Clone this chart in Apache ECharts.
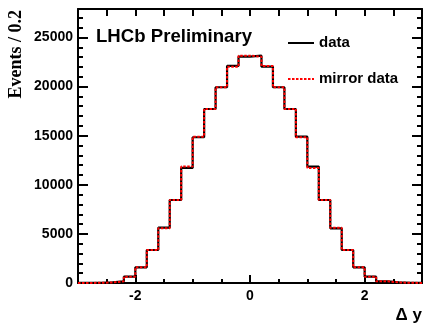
<!DOCTYPE html>
<html>
<head>
<meta charset="utf-8">
<script src="https://cdn.jsdelivr.net/npm/echarts@6/dist/echarts.min.js"></script>
<style>
  html, body { margin: 0; padding: 0; background: #fff; }
  #chart { width: 425px; height: 324px; }
</style>
</head>
<body>
<div id="chart"></div>
<script>
// Histogram binning of Δy
const binStart = -3.0;
const binWidth = 0.2;

// Events per bin, from Δy = -3.0 to 3.0
const dataCounts = [
  5, 20, 60, 170, 640, 1600, 3360, 5630, 8450, 11720,
  14840, 17720, 19930, 22100, 23050, 23150, 22030, 19930, 17720, 14900,
  11850, 8450, 5570, 3360, 1600, 640, 170, 60, 20, 5
];

// Same distribution reflected about Δy = 0
const mirrorCounts = [
  5, 20, 60, 170, 640, 1600, 3360, 5570, 8450, 11850,
  14900, 17720, 19930, 22030, 23150, 23050, 22100, 19930, 17720, 14840,
  11720, 8450, 5630, 3360, 1600, 640, 170, 60, 20, 5
];

const xMajorTicks = [-2, 0, 2];
const yTickStep = 5000;
const yMinorStep = 1000;
const yMax = 27900;

// Step outline points: each bin's low edge, plus the final high edge
function stepPoints(counts) {
  const pts = counts.map((v, i) => [binStart + i * binWidth, v]);
  pts.push([binStart + counts.length * binWidth, counts[counts.length - 1]]);
  return pts;
}

const xMin = binStart;
const xMax = binStart + dataCounts.length * binWidth;

const labelFont = { fontFamily: 'Liberation Sans', fontWeight: 'bold', color: '#000' };
const tickStyle = { color: '#000', width: 2 };

// frame-side axis helper: ticks only, optional line
function yAxisDef(position, interval, tickLen, withLine) {
  return {
    type: 'value', min: 0, max: yMax, interval: interval, position: position,
    axisLine: { show: withLine, onZero: false, lineStyle: tickStyle },
    axisTick: { show: true, inside: true, length: tickLen, lineStyle: tickStyle },
    axisLabel: { show: false },
    splitLine: { show: false }
  };
}

const chart = echarts.init(document.getElementById('chart'));
chart.setOption({
  animation: false,
  backgroundColor: '#fff',
  title: {
    text: 'LHCb Preliminary',
    left: 96,
    top: 27.5,
    padding: 0,
    textStyle: Object.assign({ fontSize: 18.6 }, labelFont)
  },
  legend: {
    orient: 'vertical',
    left: 287,
    top: 35,
    padding: 0,
    itemWidth: 26,
    itemHeight: 14,
    itemGap: 20,
    itemStyle: { opacity: 0 },
    textStyle: Object.assign({ fontSize: 15, lineHeight: 16 }, labelFont),
    data: ['data', 'mirror data']
  },
  grid: { left: 78, right: 1.5, top: 9, bottom: 41, containLabel: false },
  xAxis: [
    {
      type: 'value', min: xMin, max: xMax, position: 'bottom',
      name: 'Δ y', nameLocation: 'end', nameGap: 0,
      nameTextStyle: Object.assign({ fontSize: 17, align: 'right', verticalAlign: 'top', padding: [24, 0, 0, 0] }, labelFont),
      axisLine: { show: true, onZero: false, lineStyle: tickStyle },
      axisTick: { show: true, inside: true, length: 8, customValues: xMajorTicks, lineStyle: tickStyle },
      axisLabel: Object.assign({ show: true, fontSize: 14, margin: 6, customValues: xMajorTicks }, labelFont),
      splitLine: { show: false }
    },
    {
      type: 'value', min: xMin, max: xMax, position: 'bottom', interval: 0.5,
      axisLine: { show: false, onZero: false },
      axisTick: { show: true, inside: true, length: 4, lineStyle: tickStyle },
      axisLabel: { show: false },
      splitLine: { show: false }
    },
    {
      type: 'value', min: xMin, max: xMax, position: 'top', interval: 0.5,
      axisLine: { show: true, onZero: false, lineStyle: tickStyle },
      axisTick: { show: true, inside: true, length: 7, lineStyle: tickStyle },
      axisLabel: { show: false },
      splitLine: { show: false }
    }
  ],
  yAxis: [
    {
      type: 'value', min: 0, max: yMax, interval: yTickStep, position: 'left',
      axisLine: { show: true, onZero: false, lineStyle: tickStyle },
      axisTick: { show: true, inside: true, length: 10, lineStyle: tickStyle },
      axisLabel: Object.assign({ show: true, fontSize: 14, margin: 5, showMaxLabel: false,
        formatter: v => String(v) }, labelFont),
      splitLine: { show: false }
    },
    yAxisDef('left', yMinorStep, 5, false),
    yAxisDef('right', yTickStep, 10, true),
    yAxisDef('right', yMinorStep, 5, false),
    {
      // carries only the rotated axis title
      type: 'value', min: 0, max: yMax, position: 'left', offset: 62,
      name: 'Events / 0.2', nameLocation: 'end', nameGap: -1, nameRotate: 90,
      nameTextStyle: { fontFamily: 'Liberation Serif', fontWeight: 'bold', fontSize: 18, color: '#000', align: 'right', verticalAlign: 'middle' },
      axisLine: { show: false, onZero: false },
      axisTick: { show: false },
      axisLabel: { show: false },
      splitLine: { show: false }
    }
  ],
  series: [
    {
      name: 'data', type: 'line', step: 'end', symbol: 'none',
      xAxisIndex: 0, yAxisIndex: 0,
      data: stepPoints(dataCounts),
      lineStyle: { color: '#000', width: 2.2 },
      itemStyle: { color: '#000' },
      z: 2
    },
    {
      name: 'mirror data', type: 'line', step: 'end', symbol: 'none',
      xAxisIndex: 0, yAxisIndex: 0,
      data: stepPoints(mirrorCounts),
      lineStyle: { color: '#ff0000', width: 2, type: [2.5, 1.5] },
      itemStyle: { color: '#ff0000' },
      z: 3
    }
  ]
});
</script>
</body>
</html>
